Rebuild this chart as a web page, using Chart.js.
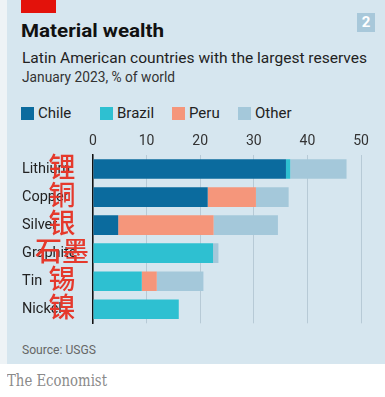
<!DOCTYPE html>
<html>
<head>
<meta charset="utf-8">
<script src="https://cdn.jsdelivr.net/npm/chart.js@4"></script>
<style>
  html, body { margin: 0; padding: 0; background: #fff; }
  body { width: 385px; height: 397px; position: relative; overflow: hidden; font-family: Roboto, "Open Sans", sans-serif; }
  #strip { position: absolute; left: 0; top: 0; width: 7px; height: 364px; background: #eef3f6; }
  #panel { position: absolute; left: 7px; top: 0; width: 378px; height: 364px; background: #d6e6ef; }
  #redbar { position: absolute; left: 21px; top: 0; width: 35px; height: 13px; background: #e3120b; }
  .txt { position: absolute; white-space: nowrap; transform-origin: 0 50%; }
  #title { left: 21px; top: 20px; font-size: 18px; font-weight: bold; color: #111; }
  #subtitle { left: 22px; top: 49px; font-size: 15.5px; color: #222; }
  #date { left: 22px; top: 69px; font-size: 14px; color: #333; }
  #num { position: absolute; left: 357px; top: 13px; width: 18px; height: 19px; background: #a8c8da; color: #fff; font-weight: bold; font-size: 15px; text-align: center; line-height: 19px; }
  .sw { position: absolute; top: 107px; width: 13px; height: 13px; }
  .lg { position: absolute; top: 104px; font-size: 15px; color: #222; }
  #source { left: 22px; top: 342px; font-size: 13px; color: #666; }
  #econ { left: 7px; top: 371px; font-size: 16px; color: #8a8a8a; font-family: "DejaVu Serif", "Liberation Serif", serif; }
  #wrap { position: absolute; left: 0; top: 125px; width: 385px; height: 211px; }
  .zh { position: absolute; font-family: "Noto Sans CJK SC", sans-serif; font-size: 27px; font-weight: 500; color: #e5392c; line-height: 1; }
</style>
</head>
<body>
<div id="strip"></div>
<div id="panel"></div>
<div id="redbar"></div>
<div id="title" class="txt" data-w="143">Material wealth</div>
<div id="subtitle" class="txt" data-w="345">Latin American countries with the largest reserves</div>
<div id="date" class="txt" data-w="153">January 2023, % of world</div>
<div id="num">2</div>
<div id="legend"></div>
<div id="wrap"><canvas id="myChart"></canvas></div>
<div id="source" class="txt" data-w="74">Source: USGS</div>
<div id="econ" class="txt" data-w="100">The Economist</div>
<div id="zh"></div>

<script>
'use strict';

// ******** DATA **********

let metals = ['Lithium', 'Copper', 'Silver', 'Graphite', 'Tin', 'Nickel'];
let metalsZh = ['锂', '铜', '银', '石墨', '锡', '镍'];
let countries = ['Chile', 'Brazil', 'Peru', 'Other'];
let colours = ['#0b6b9e', '#2ec0d1', '#f5967b', '#a4c8da'];

let chile = [36, 21.4, 4.7, 0, 0, 0];
let brazil = [0.8, 0, 0, 22.4, 9.1, 16];
let peru = [0, 9, 17.8, 0, 2.8, 0];
let other = [10.5, 6.1, 12, 1, 8.7, 0];

let xTicks = [0, 10, 20, 30, 40, 50];

// ********** LEGEND (html) ***********

let legendX = [21, 100, 172, 238];
let legend = document.getElementById('legend');
for (let i = 0; i < countries.length; i++) {
  let sw = document.createElement('div');
  sw.className = 'sw';
  sw.style.left = legendX[i] + 'px';
  sw.style.background = colours[i];
  legend.appendChild(sw);

  let lg = document.createElement('div');
  lg.className = 'lg';
  lg.style.left = (legendX[i] + 17) + 'px';
  lg.textContent = countries[i];
  legend.appendChild(lg);
}

// squeeze the condensed-looking header texts to their widths
document.querySelectorAll('[data-w]').forEach(function (el) {
  let w = el.getBoundingClientRect().width;
  el.style.transform = 'scaleX(' + (el.dataset.w / w) + ')';
});

// ********** CHART *************

let ctx = document.getElementById('myChart').getContext('2d');

let seriesValues = [chile, brazil, peru, other];
let datasets = [];
for (let i = 0; i < countries.length; i++) {
  datasets.push({
    label: countries[i],
    data: seriesValues[i],
    backgroundColor: colours[i],
    borderWidth: 0,
    barPercentage: 0.7,
    categoryPercentage: 1
  });
}

// red chinese labels sit on top of the category names
let zhPlugin = {
  id: 'zhLabels',
  afterRender(chart) {
    let box = document.getElementById('zh');
    if (box.childNodes.length) return;
    let yScale = chart.scales.y;
    let top = document.getElementById('wrap').offsetTop;
    for (let i = 0; i < metalsZh.length; i++) {
      let d = document.createElement('div');
      d.className = 'zh';
      d.textContent = metalsZh[i];
      box.appendChild(d);
      let r = d.getBoundingClientRect();
      d.style.left = (62 - r.width / 2) + 'px';
      d.style.top = (top + yScale.getPixelForValue(i) - 4 - r.height / 2) + 'px';
    }
  }
};

let myChartObj = {
  type: 'bar',
  data: {
    labels: metals,
    datasets: datasets
  },
  options: {
    indexAxis: 'y',
    responsive: true,
    maintainAspectRatio: false,
    animation: false,
    layout: { padding: { left: 22, right: 24, top: 0, bottom: 0 } },
    plugins: {
      legend: { display: false },
      tooltip: { enabled: false }
    },
    scales: {
      x: {
        position: 'top',
        stacked: true,
        min: 0,
        max: 50,
        afterBuildTicks(scale) {
          scale.ticks = xTicks.map(v => ({ value: v }));
        },
        afterFit(scale) { scale.height = 30; },
        grid: { color: '#b7cad6', lineWidth: 1, drawTicks: false },
        border: { display: false },
        ticks: {
          padding: 5,
          color: '#333',
          font: { family: 'Roboto', size: 14 }
        }
      },
      y: {
        stacked: true,
        afterFit(scale) { scale.width = 71; },
        grid: { display: false, drawTicks: false },
        border: { display: true, color: '#111', width: 1.5 },
        ticks: {
          crossAlign: 'far',
          padding: 4,
          color: '#222',
          font: { family: 'Roboto', size: 14.5 }
        }
      }
    }
  },
  plugins: [zhPlugin]
};

new Chart(ctx, myChartObj);
</script>
</body>
</html>
